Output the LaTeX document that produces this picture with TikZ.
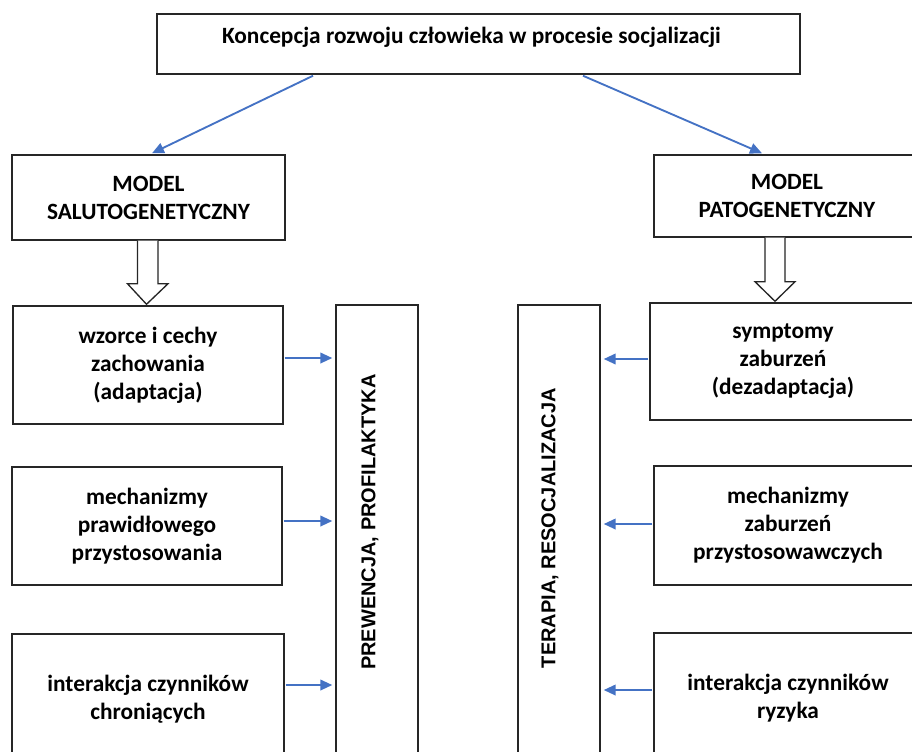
\documentclass[tikz,border=0pt]{standalone}
\usepackage{fontspec}
\setmainfont{Carlito}
\newfontfamily\arialfont{Liberation Sans}
\usetikzlibrary{calc,arrows.meta}
\definecolor{arrowblue}{RGB}{68,114,196}
\tikzset{
  boxstyle/.style={draw=black!85, line width=1.1pt, fill=white, align=center, inner sep=0pt,
    font=\fontsize{17.5}{21}\selectfont\bfseries},
  bluearrow/.style={draw=arrowblue, line width=1.4pt, -{Triangle[length=9pt,width=8pt]}},
  hollowarrow/.style={draw=black!85, line width=1pt, fill=white},
  vtext/.style={rotate=90, font=\fontsize{15}{18}\selectfont\arialfont\bfseries}
}
\begin{document}
\begin{tikzpicture}[x=0.75pt,y=-0.75pt]
\useasboundingbox (0,0) rectangle (912,751);
\clip (0,0) rectangle (912,751);
% top box
\node[boxstyle, minimum width=643*0.75pt, minimum height=60*0.75pt] (top) at (478.5,44) {};
\node[font=\fontsize{17.5}{21}\selectfont\bfseries] (toptext) at (471.5,37) {Koncepcja rozwoju człowieka w procesie socjalizacji};
% model boxes
\node[boxstyle, minimum width=273*0.75pt, minimum height=85*0.75pt] (salu) at (148.5,197.5) {MODEL\\SALUTOGENETYCZNY};
\node[boxstyle, minimum width=266*0.75pt, minimum height=82*0.75pt] (pato) at (787,196) {MODEL\\PATOGENETYCZNY};
% left boxes
\node[boxstyle, minimum width=270*0.75pt, minimum height=118*0.75pt] (l1) at (148,365) {wzorce i cechy\\zachowania\\(adaptacja)};
\node[boxstyle, minimum width=270*0.75pt, minimum height=118*0.75pt] (l2) at (147,526) {mechanizmy\\prawidłowego\\przystosowania};
\node[boxstyle, minimum width=272*0.75pt, minimum height=130*0.75pt] (l3) at (148,699) {interakcja czynników\\chroniących};
% vertical boxes
\node[boxstyle, minimum width=82*0.75pt, minimum height=470*0.75pt] (prew) at (377,540) {};
\node[vtext] (prewtext) at (370,522) {PREWENCJA, PROFILAKTYKA};
\node[boxstyle, minimum width=82*0.75pt, minimum height=470*0.75pt] (tera) at (559,540) {};
\node[vtext] (teratext) at (550,528) {TERAPIA, RESOCJALIZACJA};
% right boxes
\node[boxstyle, minimum width=266*0.75pt, minimum height=117*0.75pt] (r1) at (783,361.5) {symptomy\\zaburzeń\\(dezadaptacja)};
\node[boxstyle, minimum width=268*0.75pt, minimum height=119*0.75pt] (r2) at (788,525.5) {mechanizmy\\zaburzeń\\przystosowawczych};
\node[boxstyle, minimum width=268*0.75pt, minimum height=130*0.75pt] (r3) at (788,698) {interakcja czynników\\ryzyka};
% blue arrows from top
\draw[bluearrow] ($(top.south)+(-165.5,1)$) -- ($(salu.north)+(3.5,-1)$);
\draw[bluearrow] ($(top.south)+(104.5,1)$) -- ($(pato.north)+(-25,-1)$);
% hollow arrows
\draw[hollowarrow] ($(salu.south)+(-11,0)$) -- ++(0,43) -- ++(-10,0) -- ($(l1.north)+(-1.5,-1)$) -- ($(salu.south)+(19.5,43)$) -- ++(-10,0) -- ++(0,-43);
\draw[hollowarrow] ($(pato.south)+(-22,0)$) -- ++(0,44) -- ++(-10,0) -- ($(r1.north)+(-8,-1)$) -- ($(pato.south)+(8,44)$) -- ++(-10,0) -- ++(0,-44);
% horizontal blue arrows
\draw[bluearrow] ($(l1.east)+(1,-7)$) -- ($(prew.west |- l1.east)+(-3,-7)$);
\draw[bluearrow] ($(l2.east)+(1,-5)$) -- ($(prew.west |- l2.east)+(-3,-5)$);
\draw[bluearrow] ($(l3.east)+(1,-14)$) -- ($(prew.west |- l3.east)+(-3,-14)$);
\draw[bluearrow] ($(r1.west)+(-1,-2.5)$) -- ($(tera.east |- r1.west)+(3,-2.5)$);
\draw[bluearrow] ($(r2.west)+(-1,-1.5)$) -- ($(tera.east |- r2.west)+(3,-1.5)$);
\draw[bluearrow] ($(r3.west)+(-1,-8)$) -- ($(tera.east |- r3.west)+(3,-8)$);
\end{tikzpicture}
\end{document}
